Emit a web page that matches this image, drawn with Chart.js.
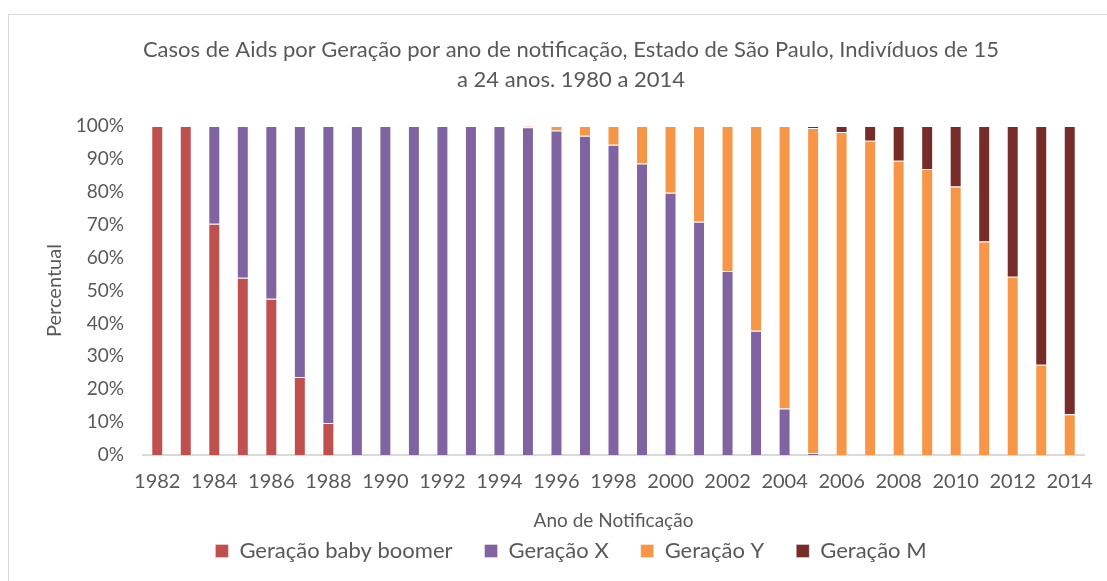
<!DOCTYPE html>
<html>
<head>
<meta charset="utf-8">
<script src="https://cdn.jsdelivr.net/npm/chart.js@4.4.1/dist/chart.umd.min.js"></script>
<style>
  html, body { margin: 0; padding: 0; background: #ffffff; overflow: hidden; width: 1107px; height: 581px; }
  #wrap { position: absolute; left: 8px; top: 14px; width: 1124px; height: 590px; border: 1px solid #d9d9d9; background: #fff; }
  #c { display: block; }
</style>
</head>
<body>
<div id="wrap"><canvas id="c" width="1124" height="590"></canvas></div>
<script>
const years = [1982,1983,1984,1985,1986,1987,1988,1989,1990,1991,1992,1993,1994,1995,1996,1997,1998,1999,2000,2001,2002,2003,2004,2005,2006,2007,2008,2009,2010,2011,2012,2013,2014];
const babyBoomer = [100,100,70.3,53.9,47.5,23.7,9.7,0,0,0,0,0,0,0,0,0,0,0,0,0,0,0,0,0,0,0,0,0,0,0,0,0,0];
const geracaoX = [0,0,29.7,46.1,52.5,76.3,90.3,100,100,100,100,100,100,99.6,98.6,97.0,94.3,88.6,79.7,70.9,55.9,37.8,14.1,0.6,0,0,0,0,0,0,0,0,0];
const geracaoY = [0,0,0,0,0,0,0,0,0,0,0,0,0,0.4,1.4,3.0,5.7,11.4,20.3,29.1,44.1,62.2,85.9,98.8,98.2,95.5,89.4,86.9,81.6,64.9,54.2,27.4,12.4];
const geracaoM = [0,0,0,0,0,0,0,0,0,0,0,0,0,0,0,0,0,0,0,0,0,0,0,0.6,1.8,4.5,10.6,13.1,18.4,35.1,45.8,72.6,87.6];
const yTicks = [0,10,20,30,40,50,60,70,80,90,100];

const seriesNames = ['Geração baby boomer','Geração X','Geração Y','Geração M'];
const seriesColors = ['#C0504D','#8064A2','#F79646','#772C2A'];
const seriesData = [babyBoomer, geracaoX, geracaoY, geracaoM];

const txt = '#595959';
const FONT = 'Lato, "Open Sans", sans-serif';

new Chart(document.getElementById('c'), {
  type: 'bar',
  data: {
    labels: years.map(String),
    datasets: seriesData.map((d, i) => ({
      label: seriesNames[i],
      data: d,
      backgroundColor: seriesColors[i],
      borderColor: 'rgba(255,255,255,0.35)',
      borderWidth: 1,
      barPercentage: 0.42,
      categoryPercentage: 1.0
    }))
  },
  options: {
    responsive: false,
    animation: false,
    layout: { padding: { left: 49, right: 49, top: 0, bottom: 33 } },
    plugins: {
      title: {
        display: true,
        text: ['Casos de Aids por Geração por ano de notificação, Estado de São Paulo, Indivíduos de 15', 'a 24 anos. 1980 a 2014'],
        color: txt,
        font: { family: FONT, size: 22, weight: 'normal', lineHeight: 30 / 22 },
        padding: { top: 20, bottom: 31 }
      },
      legend: {
        position: 'bottom',
        labels: {
          color: txt,
          font: { family: FONT, size: 22 },
          boxWidth: 13,
          boxHeight: 13,
          padding: 32
        }
      },
      tooltip: { enabled: false }
    },
    scales: {
      x: {
        stacked: true,
        afterFit: (axis) => { axis.height = 53; },
        grid: { display: false, drawTicks: false },
        border: { display: true, color: '#d9d9d9', width: 2 },
        ticks: {
          color: txt,
          font: { family: FONT, size: 20 },
          padding: 15,
          autoSkip: false,
          maxRotation: 0,
          callback: function(v, i) { return i % 2 === 0 ? this.getLabelForValue(v) : ''; }
        },
        title: {
          display: true,
          text: 'Ano de Notificação',
          color: txt,
          font: { family: FONT, size: 19 },
          padding: { top: 0, bottom: -24 }
        }
      },
      y: {
        stacked: true,
        min: 0,
        max: 100,
        afterFit: (axis) => { axis.width = 85; },
        afterBuildTicks: (axis) => { axis.ticks = yTicks.map(v => ({ value: v })); },
        grid: { display: false, drawTicks: false },
        border: { display: false },
        ticks: {
          color: txt,
          font: { family: FONT, size: 19 },
          padding: 19,
          callback: (v) => v + '%'
        },
        title: {
          display: true,
          text: 'Percentual',
          color: txt,
          font: { family: FONT, size: 20 },
          padding: { top: -15, bottom: 0 }
        }
      }
    }
  }
});
</script>
</body>
</html>
